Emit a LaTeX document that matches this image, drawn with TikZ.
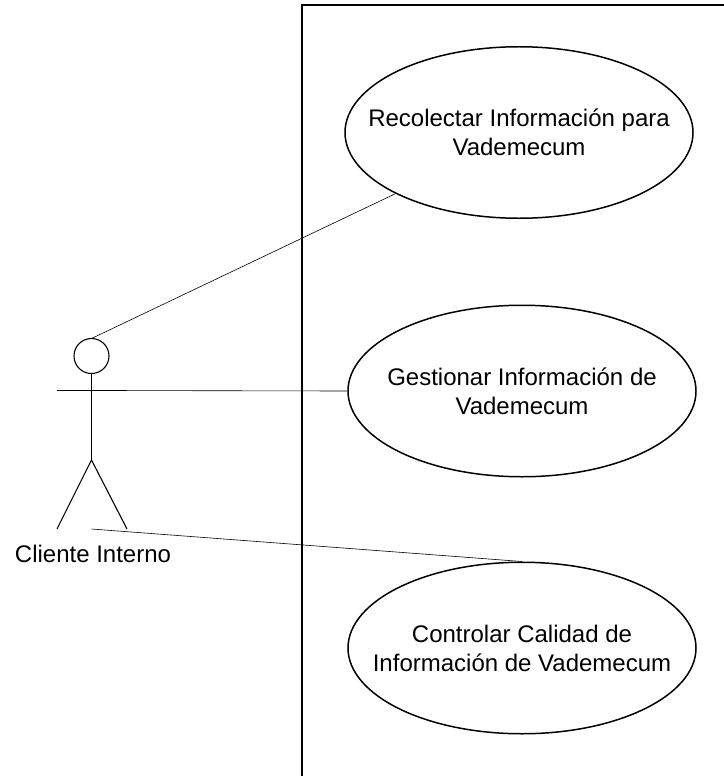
\documentclass[tikz,border=0pt]{standalone}
\usepackage{fontspec}
\setmainfont{Liberation Sans}
\usetikzlibrary{shapes.geometric}
\tikzset{
 usecase/.style={draw=black,ellipse,line width=1.5pt,inner xsep=-80bp,inner ysep=0pt,align=center,minimum width=348bp,minimum height=171.5bp,font=\fontsize{24bp}{28.9bp}\selectfont},
 thinln/.style={line width=0.6pt,black},
 fig/.style={line width=1.1pt,black}
}
\begin{document}
\begin{tikzpicture}[x=1bp,y=-1bp,every node/.append style={text=black}]
\useasboundingbox (0,0) rectangle (724,776);
\draw[line width=1.6pt] (302,776) -- (302,5) -- (724,5);
\node[usecase] (u1) at (519,132.5) {Recolectar Información para\\Vademecum};
\node[usecase] (u2) at (522,391) {Gestionar Información de\\Vademecum};
\node[usecase] (u3) at (522,648) {Controlar Calidad de\\Información de Vademecum};
\node[draw,circle,fig,minimum size=35bp,inner sep=0pt] (head) at (91.5,356) {};
\coordinate (armL) at (57,390.5);
\coordinate (armR) at (127,390.5);
\coordinate (hip) at (91.5,460);
\coordinate (footL) at (57,529);
\coordinate (footR) at (127,529);
\draw[fig] (head.south) -- (hip);
\draw[fig] (armL) -- (armR);
\draw[fig] (footL) -- (hip) -- (footR);
\node[font=\fontsize{24bp}{28bp}\selectfont,anchor=base] (lbl) at (93,562) {Cliente Interno};
\coordinate (a1) at (91.5,338.5);
\coordinate (a2) at (91.5,390.5);
\coordinate (a3) at (91.5,529);
\draw[thinln] (a1) -- (u1.south west);
\draw[thinln] (a2) -- (u2.west);
\draw[thinln] (a3) -- (u3.north);
\end{tikzpicture}
\end{document}
